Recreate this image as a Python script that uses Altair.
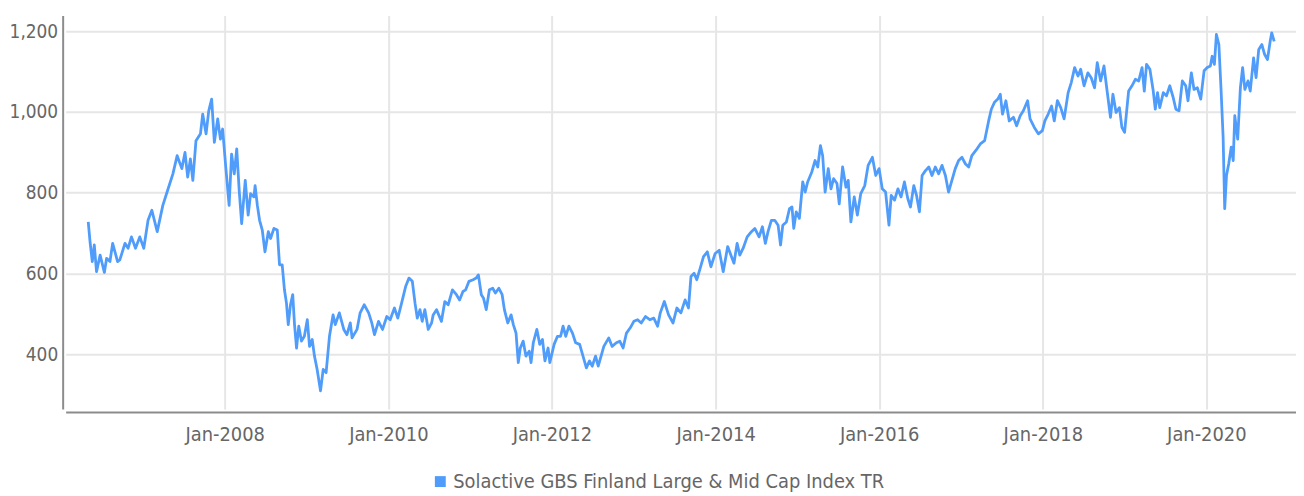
import altair as alt
import pandas as pd

SERIES_NAME = "Solactive GBS Finland Large & Mid Cap Index TR"

decimal_year = [
    2006.334, 2006.355, 2006.383, 2006.407, 2006.435, 2006.477, 2006.529, 2006.557, 2006.598, 2006.630,
    2006.691, 2006.720, 2006.781, 2006.821, 2006.861, 2006.909, 2006.963, 2007.012, 2007.064, 2007.112,
    2007.177, 2007.246, 2007.298, 2007.368, 2007.420, 2007.477, 2007.517, 2007.550, 2007.583, 2007.611,
    2007.651, 2007.705, 2007.733, 2007.773, 2007.805, 2007.842, 2007.875, 2007.915, 2007.948, 2007.976,
    2008.016, 2008.057, 2008.085, 2008.118, 2008.150, 2008.179, 2008.210, 2008.252, 2008.288, 2008.320,
    2008.361, 2008.373, 2008.401, 2008.429, 2008.462, 2008.495, 2008.535, 2008.563, 2008.604, 2008.644,
    2008.672, 2008.705, 2008.733, 2008.757, 2008.778, 2008.806, 2008.835, 2008.855, 2008.879, 2008.908,
    2008.940, 2008.976, 2009.009, 2009.037, 2009.070, 2009.098, 2009.131, 2009.171, 2009.204, 2009.240,
    2009.280, 2009.325, 2009.353, 2009.402, 2009.455, 2009.495, 2009.536, 2009.556, 2009.617, 2009.657,
    2009.706, 2009.759, 2009.799, 2009.832, 2009.881, 2009.929, 2009.982, 2010.022, 2010.075, 2010.115,
    2010.164, 2010.213, 2010.253, 2010.294, 2010.326, 2010.355, 2010.387, 2010.416, 2010.447, 2010.489,
    2010.529, 2010.550, 2010.590, 2010.650, 2010.691, 2010.732, 2010.784, 2010.833, 2010.873, 2010.914,
    2010.946, 2010.987, 2011.036, 2011.076, 2011.104, 2011.137, 2011.165, 2011.198, 2011.238, 2011.279,
    2011.311, 2011.352, 2011.392, 2011.420, 2011.461, 2011.502, 2011.530, 2011.562, 2011.590, 2011.615,
    2011.651, 2011.684, 2011.724, 2011.745, 2011.773, 2011.818, 2011.854, 2011.887, 2011.915, 2011.955,
    2011.976, 2012.028, 2012.069, 2012.109, 2012.137, 2012.170, 2012.210, 2012.252, 2012.292, 2012.340,
    2012.381, 2012.422, 2012.462, 2012.495, 2012.535, 2012.568, 2012.636, 2012.697, 2012.738, 2012.790,
    2012.830, 2012.872, 2012.912, 2012.960, 2013.001, 2013.049, 2013.091, 2013.143, 2013.195, 2013.244,
    2013.292, 2013.325, 2013.374, 2013.426, 2013.480, 2013.528, 2013.577, 2013.629, 2013.669, 2013.699,
    2013.739, 2013.771, 2013.811, 2013.852, 2013.900, 2013.942, 2013.994, 2014.046, 2014.095, 2014.148,
    2014.197, 2014.225, 2014.265, 2014.298, 2014.338, 2014.387, 2014.440, 2014.480, 2014.533, 2014.574,
    2014.610, 2014.642, 2014.683, 2014.723, 2014.764, 2014.796, 2014.824, 2014.866, 2014.906, 2014.934,
    2014.958, 2014.987, 2015.027, 2015.068, 2015.097, 2015.128, 2015.177, 2015.218, 2015.250, 2015.283,
    2015.311, 2015.340, 2015.380, 2015.413, 2015.444, 2015.486, 2015.514, 2015.554, 2015.595, 2015.623,
    2015.656, 2015.696, 2015.736, 2015.777, 2015.826, 2015.866, 2015.919, 2015.960, 2016.000, 2016.040,
    2016.081, 2016.122, 2016.150, 2016.191, 2016.231, 2016.271, 2016.312, 2016.353, 2016.386, 2016.426,
    2016.458, 2016.495, 2016.527, 2016.568, 2016.608, 2016.648, 2016.689, 2016.730, 2016.770, 2016.811,
    2016.851, 2016.891, 2016.932, 2016.973, 2017.013, 2017.054, 2017.094, 2017.134, 2017.183, 2017.236,
    2017.289, 2017.338, 2017.370, 2017.410, 2017.451, 2017.480, 2017.508, 2017.548, 2017.589, 2017.641,
    2017.681, 2017.723, 2017.763, 2017.815, 2017.844, 2017.897, 2017.945, 2017.994, 2018.027, 2018.067,
    2018.107, 2018.140, 2018.180, 2018.221, 2018.262, 2018.310, 2018.350, 2018.391, 2018.432, 2018.464,
    2018.505, 2018.553, 2018.593, 2018.635, 2018.666, 2018.708, 2018.748, 2018.788, 2018.829, 2018.857,
    2018.897, 2018.939, 2018.967, 2019.000, 2019.052, 2019.092, 2019.133, 2019.173, 2019.214, 2019.243,
    2019.271, 2019.311, 2019.352, 2019.376, 2019.404, 2019.432, 2019.474, 2019.514, 2019.554, 2019.595,
    2019.627, 2019.668, 2019.708, 2019.748, 2019.777, 2019.818, 2019.850, 2019.891, 2019.931, 2019.972,
    2020.012, 2020.052, 2020.073, 2020.101, 2020.125, 2020.154, 2020.182, 2020.207, 2020.227, 2020.247,
    2020.276, 2020.304, 2020.329, 2020.349, 2020.386, 2020.417, 2020.446, 2020.471, 2020.511, 2020.539,
    2020.580, 2020.608, 2020.641, 2020.681, 2020.714, 2020.750, 2020.782, 2020.802, 2020.830,
]

# Index levels
index_level = [
    728, 679, 630, 671, 605, 646, 603, 638, 630, 675,
    630, 634, 675, 663, 691, 663, 691, 663, 732, 757,
    704, 769, 802, 847, 892, 860, 900, 839, 884, 831,
    929, 946, 995, 946, 1003, 1032, 925, 983, 933, 958,
    864, 769, 896, 847, 909, 806, 724, 831, 745, 798,
    790, 818, 769, 732, 708, 654, 704, 687, 712, 708,
    622, 622, 560, 527, 474, 523, 548, 474, 416, 470,
    433, 445, 486, 420, 437, 396, 363, 310, 363, 355,
    445, 498, 474, 503, 462, 449, 478, 441, 462, 503,
    523, 503, 478, 449, 482, 462, 494, 486, 515, 490,
    527, 568, 589, 581, 527, 490, 511, 482, 511, 462,
    478, 498, 511, 482, 531, 523, 560, 548, 535, 556,
    560, 581, 585, 589, 597, 548, 539, 511, 560, 564,
    552, 564, 548, 511, 478, 498, 474, 453, 380, 416,
    433, 396, 408, 380, 429, 462, 425, 437, 384, 416,
    380, 425, 445, 445, 470, 445, 470, 453, 429, 425,
    396, 367, 384, 371, 396, 371, 420, 441, 420, 429,
    433, 416, 453, 466, 482, 486, 478, 494, 486, 490,
    470, 503, 531, 498, 478, 515, 503, 535, 515, 593,
    601, 585, 613, 642, 654, 617, 650, 658, 605, 667,
    642, 626, 675, 646, 663, 691, 704, 712, 691, 716,
    675, 704, 732, 732, 720, 671, 720, 728, 761, 765,
    712, 753, 737, 827, 802, 827, 851, 880, 864, 917,
    892, 802, 860, 810, 835, 823, 773, 864, 814, 831,
    728, 790, 745, 798, 818, 868, 888, 843, 860, 810,
    802, 720, 794, 782, 810, 790, 827, 786, 765, 818,
    794, 753, 843, 855, 864, 843, 864, 847, 868, 843,
    802, 831, 860, 880, 888, 872, 864, 892, 905, 921,
    929, 978, 1007, 1024, 1032, 1044, 995, 1028, 978, 987,
    966, 991, 1003, 1028, 983, 962, 946, 954, 978, 995,
    1015, 978, 1028, 1011, 983, 1048, 1073, 1110, 1089, 1106,
    1065, 1097, 1085, 1060, 1122, 1077, 1114, 1052, 987, 1044,
    999, 1011, 962, 950, 1052, 1065, 1081, 1077, 1110, 1052,
    1118, 1106, 1052, 1007, 1048, 1011, 1048, 1040, 1065, 1036,
    1007, 1003, 1077, 1065, 1028, 1097, 1056, 1060, 1032, 1102,
    1110, 1114, 1138, 1118, 1192, 1167, 1052, 937, 761, 843,
    872, 913, 880, 991, 933, 1060, 1110, 1056, 1077, 1052,
    1134, 1085, 1155, 1167, 1143, 1130, 1175, 1196, 1175,
]

y_ticks = [400, 600, 800, 1000, 1200]
x_tick_years = [2008, 2010, 2012, 2014, 2016, 2018, 2020]


def to_date(y):
    whole = int(y)
    return pd.Timestamp(whole, 1, 1) + pd.Timedelta(days=(y - whole) * 365.25)


def ms(ts):
    return int(ts.value // 10**6)


df = pd.DataFrame({
    "date": [to_date(y).strftime("%Y-%m-%d") for y in decimal_year],
    "value": index_level,
    "series": SERIES_NAME,
})

FONT = "DejaVu Sans Condensed, Roboto, sans-serif"
TEXT_COLOR = "#666666"
LINE_COLOR = "#4f9cfb"

x_domain = [ms(to_date(2006.055)), ms(to_date(2021.094))]
x_tick_values = [ms(pd.Timestamp(y, 1, 1)) for y in x_tick_years]

chart = alt.Chart(df).mark_line(strokeWidth=2.8, strokeJoin="round").encode(
    x=alt.X(
        "date:T",
        title=None,
        scale=alt.Scale(type="utc", domain=x_domain, nice=False),
        axis=alt.Axis(
            values=x_tick_values,
            format="%b-%Y",
            ticks=False,
            grid=True,
            gridColor="#e6e6e6",
            gridWidth=2,
            domainColor="#8c8c8c",
            domainWidth=2,
            offset=3,
            labelFont=FONT,
            labelFontSize=20,
            labelColor=TEXT_COLOR,
            labelPadding=13,
        ),
    ),
    y=alt.Y(
        "value:Q",
        title=None,
        scale=alt.Scale(domain=[265, 1239], nice=False, zero=False),
        axis=alt.Axis(
            values=y_ticks,
            format=",.0f",
            ticks=False,
            grid=True,
            gridColor="#e6e6e6",
            gridWidth=2,
            domainColor="#8c8c8c",
            domainWidth=2,
            offset=3,
            labelFont=FONT,
            labelFontSize=19,
            labelColor=TEXT_COLOR,
            labelPadding=5,
        ),
    ),
    color=alt.Color(
        "series:N",
        scale=alt.Scale(domain=[SERIES_NAME], range=[LINE_COLOR]),
        legend=alt.Legend(
            title=None,
            orient="none",
            legendX=367,
            legendY=459,
            padding=0,
            symbolType="square",
            symbolSize=120,
            symbolStrokeWidth=0,
            symbolFillColor=LINE_COLOR,
            labelFont=FONT,
            labelFontSize=20,
            labelColor=TEXT_COLOR,
            labelOffset=3,
            labelLimit=0,
        ),
    ),
).properties(
    width=1238,
    height=396,
    autosize=alt.AutoSizeParams(type="none"),
    padding={"left": 58, "top": 6, "right": 0, "bottom": 86},
).configure_view(stroke=None)

chart.save("out.html", embed_options={"renderer": "svg", "actions": False})
